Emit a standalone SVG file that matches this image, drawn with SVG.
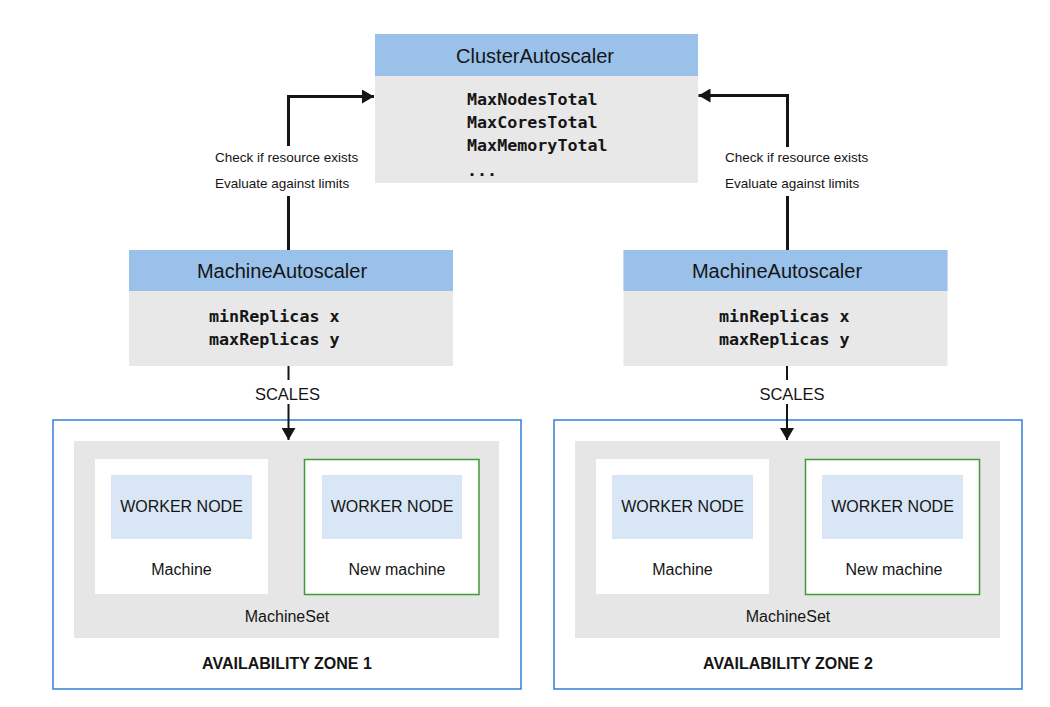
<svg xmlns="http://www.w3.org/2000/svg" width="1050" height="707" viewBox="0 0 1050 707">
<style>
.sans{font-family:"Liberation Sans","Noto Sans",Arial,sans-serif;fill:#151515}
.mono{font-family:"DejaVu Sans Mono","Liberation Mono",monospace;font-weight:bold;font-size:16.7px;fill:#151515}
.hdr{fill:#99c1ea}
.body{fill:#e8e8e8}
.zone{fill:#ffffff;stroke:#2f7fd6;stroke-width:1.5}
.set{fill:#e6e6e6}
.mach{fill:#ffffff}
.newm{fill:#ffffff;stroke:#3f9c35;stroke-width:1.5}
.wn{fill:#d8e6f6}
.ln{fill:none;stroke:#151515}
</style>
<defs>
<marker id="ah" viewBox="0 0 12 14" refX="12" refY="7" markerWidth="12" markerHeight="14" markerUnits="userSpaceOnUse" orient="auto">
<path d="M0,0 L12,7 L0,14 Z" fill="#151515"/>
</marker>
</defs>
<rect width="1050" height="707" fill="#ffffff"/>

<g id="cluster-autoscaler">
<rect class="body" x="375" y="34" width="323" height="149"/>
<rect class="hdr" x="375" y="34" width="323" height="42"/>
<text class="sans" x="535" y="63" font-size="20" text-anchor="middle">ClusterAutoscaler</text>
<text class="mono" x="467" y="105">MaxNodesTotal</text>
<text class="mono" x="467" y="128">MaxCoresTotal</text>
<text class="mono" x="467" y="151">MaxMemoryTotal</text>
<text class="mono" x="467" y="176">...</text>
</g>

<g id="zone1">
<rect class="zone" x="53" y="420" width="468" height="269"/>
<text class="sans" x="287" y="669" font-size="16" font-weight="bold" text-anchor="middle">AVAILABILITY ZONE 1</text>
</g>
<g id="machineset1">
<rect class="set" x="74" y="441" width="425" height="197"/>
<text class="sans" x="287" y="622" font-size="16" text-anchor="middle">MachineSet</text>
</g>
<g id="machine1">
<rect class="mach" x="95" y="459" width="173" height="135"/>
<rect class="wn" x="111" y="475" width="141" height="64"/>
<text class="sans" x="181.5" y="512" font-size="16" text-anchor="middle">WORKER NODE</text>
<text class="sans" x="181.5" y="575" font-size="16" text-anchor="middle">Machine</text>
</g>
<g id="newmachine1">
<rect class="newm" x="304.5" y="459.5" width="174.5" height="135"/>
<rect class="wn" x="322" y="475" width="140" height="64"/>
<text class="sans" x="392" y="512" font-size="16" text-anchor="middle">WORKER NODE</text>
<text class="sans" x="397" y="575" font-size="16" text-anchor="middle">New machine</text>
</g>

<g id="zone2">
<rect class="zone" x="554" y="420" width="468" height="269"/>
<text class="sans" x="788" y="669" font-size="16" font-weight="bold" text-anchor="middle">AVAILABILITY ZONE 2</text>
</g>
<g id="machineset2">
<rect class="set" x="575" y="441" width="425" height="197"/>
<text class="sans" x="788" y="622" font-size="16" text-anchor="middle">MachineSet</text>
</g>
<g id="machine2">
<rect class="mach" x="596" y="459" width="173" height="135"/>
<rect class="wn" x="612" y="475" width="141" height="64"/>
<text class="sans" x="682.5" y="512" font-size="16" text-anchor="middle">WORKER NODE</text>
<text class="sans" x="682.5" y="575" font-size="16" text-anchor="middle">Machine</text>
</g>
<g id="newmachine2">
<rect class="newm" x="805.5" y="459.5" width="174" height="135"/>
<rect class="wn" x="822" y="475" width="141" height="64"/>
<text class="sans" x="892.5" y="512" font-size="16" text-anchor="middle">WORKER NODE</text>
<text class="sans" x="894" y="575" font-size="16" text-anchor="middle">New machine</text>
</g>

<g id="machine-autoscaler1">
<rect class="body" x="129" y="250" width="324" height="116"/>
<rect class="hdr" x="129" y="250" width="324" height="41"/>
<text class="sans" x="282" y="278" font-size="20" text-anchor="middle">MachineAutoscaler</text>
<text class="mono" x="209" y="322">minReplicas x</text>
<text class="mono" x="209" y="345">maxReplicas y</text>
</g>
<g id="machine-autoscaler2">
<rect class="body" x="623.5" y="250" width="324" height="116"/>
<rect class="hdr" x="623.5" y="250" width="324" height="41"/>
<text class="sans" x="777" y="278" font-size="20" text-anchor="middle">MachineAutoscaler</text>
<text class="mono" x="719" y="322">minReplicas x</text>
<text class="mono" x="719" y="345">maxReplicas y</text>
</g>

<g id="connectors">
<path class="ln" stroke-width="3" d="M288.5,146 V96.5 H374" marker-end="url(#ah)"/>
<path class="ln" stroke-width="3" d="M288.5,196 V250"/>
<text class="sans" x="215" y="162" font-size="13.5">Check if resource exists</text>
<text class="sans" x="215" y="188" font-size="13.5">Evaluate against limits</text>

<path class="ln" stroke-width="3" d="M787.5,147 V95.5 H698.5" marker-end="url(#ah)"/>
<path class="ln" stroke-width="3" d="M787.5,196 V250"/>
<text class="sans" x="725" y="162" font-size="13.5">Check if resource exists</text>
<text class="sans" x="725" y="188" font-size="13.5">Evaluate against limits</text>

<path class="ln" stroke-width="2" d="M288.5,366 V380"/>
<path class="ln" stroke-width="2" d="M288.5,404 V440" marker-end="url(#ah)"/>
<text class="sans" x="287.5" y="400" font-size="16.5" text-anchor="middle">SCALES</text>

<path class="ln" stroke-width="2" d="M787,366 V380"/>
<path class="ln" stroke-width="2" d="M787,404 V440" marker-end="url(#ah)"/>
<text class="sans" x="792" y="400" font-size="16.5" text-anchor="middle">SCALES</text>
</g>
</svg>
